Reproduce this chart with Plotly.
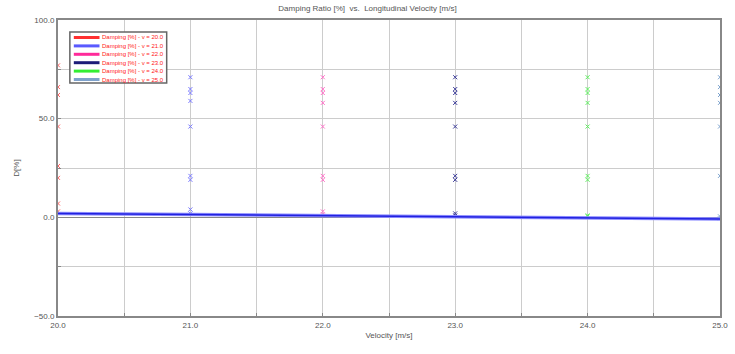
import plotly.graph_objects as go

velocities = [20.0, 21.0, 22.0, 23.0, 24.0, 25.0]
series_names = [
    "Damping [%] - v = 20.0",
    "Damping [%] - v = 21.0",
    "Damping [%] - v = 22.0",
    "Damping [%] - v = 23.0",
    "Damping [%] - v = 24.0",
    "Damping [%] - v = 25.0",
]
damping_v20 = [77, 66, 62, 46, 26, 20, 7, 3]
damping_v21 = [71, 65, 63, 59, 46, 21, 19, 4, 2]
damping_v22 = [71, 65, 63, 58, 46, 21, 19, 3, 1.5]
damping_v23 = [71, 65, 63, 58, 46, 21, 19, 2, 1]
damping_v24 = [71, 65, 63, 58, 46, 21, 19, 1, 0.5]
damping_v25 = [71, 66, 62, 58, 46, 21, 0.5, -0.5]
damping_sets = [damping_v20, damping_v21, damping_v22, damping_v23, damping_v24, damping_v25]
lowest_mode = [2.0, 1.4, 0.8, 0.1, -0.4, -0.9]

line_colors = ["#ff3030", "#5a5aff", "#ff2a9a", "#1c1c78", "#33ee33", "#7fa2cc"]
marker_colors = ["#ff6060", "#7a7aff", "#ff70c8", "#3a3a98", "#5cf05c", "#7aa0cc"]

fig = go.Figure()

for v, vals, mc, name in zip(velocities, damping_sets, marker_colors, series_names):
    fig.add_trace(go.Scatter(
        x=[v] * len(vals), y=vals, mode="markers", name=name, showlegend=False,
        marker=dict(symbol="x-thin", size=4, line=dict(width=1, color=mc), color=mc),
    ))

fig.add_trace(go.Scatter(
    x=velocities, y=lowest_mode, mode="lines", showlegend=False,
    line=dict(color="#8a8aff", width=3.5),
))
fig.add_trace(go.Scatter(
    x=velocities, y=lowest_mode, mode="lines", showlegend=False,
    line=dict(color="#2222e0", width=1.5),
))

# Legend drawn manually (compact, like the original)
W, H = 670.0, 296.0
def px(x):
    return (x - 58) / W
def py(y):
    return (316 - y) / H

shapes = [dict(type="rect", xref="paper", yref="paper",
               x0=px(70), x1=px(168), y0=py(83), y1=py(32),
               line=dict(color="#666666", width=1.5), fillcolor="white", layer="above")]
annotations = []
row0, dy = 37.5, 8.4
for i, (name, lc) in enumerate(zip(series_names, line_colors)):
    yy = row0 + i * dy
    shapes.append(dict(type="line", xref="paper", yref="paper",
                       x0=px(74), x1=px(100), y0=py(yy), y1=py(yy),
                       line=dict(color=lc, width=3), layer="above"))
    annotations.append(dict(xref="paper", yref="paper", x=px(101), y=py(yy),
                            text=name, showarrow=False, xanchor="left", yanchor="middle",
                            font=dict(size=6, color="#ff2020", family="Liberation Sans")))

fig.update_layout(
    width=735, height=354,
    margin=dict(l=58, r=7, t=20, b=38),
    paper_bgcolor="white", plot_bgcolor="white",
    font=dict(family="Liberation Sans", size=8, color="#555555"),
    title=dict(text="Damping Ratio [%]  vs.  Longitudinal Velocity [m/s]",
               x=0.5, xanchor="center", y=0.985, yanchor="top",
               font=dict(size=8, color="#555555")),
    shapes=shapes, annotations=annotations,
    showlegend=False,
)
fig.update_xaxes(
    range=[20, 25], tickvals=velocities, tickformat=".1f",
    showgrid=True, gridcolor="#cccccc", gridwidth=1,
    showline=True, linecolor="#888888", linewidth=2, mirror=True,
    ticks="inside", ticklen=3, tickcolor="#888888",
    minor=dict(dtick=0.5, showgrid=True, gridcolor="#cccccc", ticks="inside", ticklen=3, tickcolor="#888888"),
    zeroline=False,
    title=dict(text="Velocity [m/s]", standoff=4, font=dict(size=8)),
)
fig.update_yaxes(
    range=[-50, 100], tickvals=[-50, 0, 50, 100], tickformat=".1f",
    showgrid=True, gridcolor="#cccccc", gridwidth=1,
    showline=True, linecolor="#888888", linewidth=2, mirror=True,
    ticks="inside", ticklen=3, tickcolor="#888888",
    minor=dict(dtick=25, showgrid=True, gridcolor="#cccccc", ticks="inside", ticklen=3, tickcolor="#888888"),
    zeroline=True, zerolinecolor="#888888", zerolinewidth=1,
    title=dict(text="D[%]", standoff=13, font=dict(size=8)),
)

fig.write_html("out.html")
